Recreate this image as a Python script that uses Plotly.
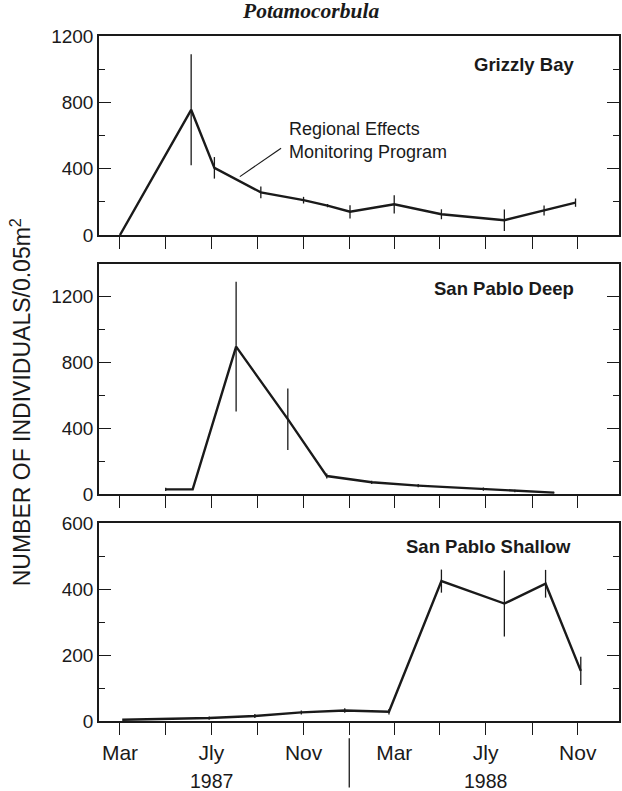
import plotly.graph_objects as go

# ---- data ----
grizzly_dates = ["1987-03-01", "1987-06-04", "1987-07-05", "1987-09-05", "1987-11-01", "1987-12-03",
                 "1988-01-02", "1988-03-01", "1988-05-03", "1988-07-26", "1988-09-17", "1988-10-29"]
grizzly_vals = [0, 755, 405, 257, 210, 177, 140, 185, 125, 89, 148, 195]
grizzly_err = [0, 335, 65, 35, 20, 10, 40, 55, 30, 65, 30, 25]

deep_dates = ["1987-05-01", "1987-06-06", "1987-08-03", "1987-10-11", "1987-12-02", "1988-01-31",
              "1988-04-02", "1988-06-28", "1988-08-09", "1988-09-30"]
deep_vals = [28, 28, 896, 455, 109, 71, 51, 30, 18, 8]
deep_err = [10, 0, 395, 187, 15, 10, 10, 10, 8, 5]

shallow_dates = ["1987-03-04", "1987-04-30", "1987-06-28", "1987-08-28", "1987-10-29", "1987-12-26",
                 "1988-02-23", "1988-05-03", "1988-07-26", "1988-09-19", "1988-11-05"]
shallow_vals = [4, 6, 9, 15, 26, 32, 28, 424, 356, 416, 152]
shallow_err = [0, 0, 5, 6, 6, 7, 8, 35, 100, 42, 43]

panel_names = ["Grizzly Bay", "San Pablo Deep", "San Pablo Shallow"]
label_dates = ["1987-03-01", "1987-07-01", "1987-11-01", "1988-03-01", "1988-07-01", "1988-11-01"]
label_text = ["Mar", "Jly", "Nov", "Mar", "Jly", "Nov"]
minor_tick0 = "1987-03-01"
minor_step = "M2"
year_labels = ["1987", "1988"]
year_centers = ["1987-07-01", "1988-07-01"]
year_divider = "1988-01-01"
x_range = ["1987-02-01", "1988-12-26"]
y_ranges = [[0, 1200], [0, 1400], [0, 600]]
y_dticks = [400, 400, 200]
y_minor = [200, 200, 100]
title_text = "Potamocorbula"
ytitle_text = "NUMBER OF INDIVIDUALS/0.05m<sup>2</sup>"
remp_text = "Regional Effects<br>Monitoring Program"
remp_pos = ("1987-10-10", 567)
remp_leader = (("1987-08-08", 352), ("1987-10-02", 523))

INK = "#1a1a1a"
FONT = "Liberation Sans"

series = [(grizzly_dates, grizzly_vals, grizzly_err),
          (deep_dates, deep_vals, deep_err),
          (shallow_dates, shallow_vals, shallow_err)]

# vertical domains (top, middle, bottom)
domains = [[0.7095, 1.0], [0.3314, 0.6675], [0.0, 0.289]]

fig = go.Figure()
for i, (d, v, e) in enumerate(series):
    sfx = "" if i == 0 else str(i + 1)
    fig.add_trace(go.Scatter(
        x=d, y=v, mode="lines",
        line=dict(color=INK, width=2.4),
        error_y=dict(type="data", array=e, visible=True, width=0, thickness=1.3, color=INK),
        xaxis="x" + sfx, yaxis="y" + sfx, showlegend=False, cliponaxis=False,
    ))

layout = dict(
    width=622, height=791,
    margin=dict(l=99, r=1, t=36, b=70),
    paper_bgcolor="white", plot_bgcolor="white",
    font=dict(family=FONT, color=INK),
    showlegend=False,
)

for i in range(3):
    sfx = "" if i == 0 else str(i + 1)
    layout["xaxis" + sfx] = dict(
        type="date", range=x_range, domain=[0, 1],
        anchor="y" + sfx,
        matches=None if i == 0 else "x",
        tickmode="array", tickvals=label_dates, ticktext=label_text,
        showticklabels=(i == 2),
        ticks="outside", ticklen=12, tickwidth=1.3, tickcolor=INK,
        minor=dict(ticks="outside", ticklen=12, tickwidth=1.3, tickcolor=INK,
                   tick0=minor_tick0, dtick=minor_step, showgrid=False),
        showline=True, linecolor=INK, linewidth=1.5, mirror=True,
        showgrid=False, zeroline=False,
        tickfont=dict(size=21, family=FONT, color=INK),
    )
    layout["yaxis" + sfx] = dict(
        range=y_ranges[i], domain=domains[i], anchor="x" + sfx,
        tick0=0, dtick=y_dticks[i],
        ticks="inside", ticklen=12, tickwidth=1.3, tickcolor=INK,
        minor=dict(ticks="inside", ticklen=6, tickwidth=1.2, tickcolor=INK, dtick=y_minor[i], showgrid=False),
        showline=True, linecolor=INK, linewidth=1.5, mirror="ticks",
        showgrid=False, zeroline=False,
        tickfont=dict(size=19, family=FONT, color=INK),
    )

fig.update_layout(**layout)

annotations = []
# panel labels
label_pos = [(0.918, 0.9577), (0.917, 0.632), (0.912, 0.2545)]
for name, (px, py) in zip(panel_names, label_pos):
    annotations.append(dict(text="<b>" + name + "</b>", x=px, y=py, xref="paper", yref="paper",
                            xanchor="right", yanchor="middle", showarrow=False,
                            font=dict(size=18.5, family=FONT, color=INK)))
# title
annotations.append(dict(text="<b><i>" + title_text + "</i></b>", x=0.406, y=1.037, xref="paper", yref="paper",
                        xanchor="center", yanchor="middle", showarrow=False,
                        font=dict(size=21.5, family="Liberation Serif", color=INK)))
# y title
annotations.append(dict(text=ytitle_text, x=-0.151, y=0.466, xref="paper", yref="paper",
                        textangle=-90, xanchor="center", yanchor="middle", showarrow=False,
                        font=dict(size=23, family=FONT, color=INK)))
# REMP note
annotations.append(dict(text=remp_text, x=remp_pos[0], y=remp_pos[1], xref="x", yref="y",
                        xanchor="left", yanchor="middle", align="left", showarrow=False,
                        font=dict(size=18, family=FONT, color=INK)))
# year labels
for lab, xc in zip(year_labels, year_centers):
    annotations.append(dict(text=lab, x=xc, y=-0.087, xref="x3", yref="paper",
                            xanchor="center", yanchor="middle", showarrow=False,
                            font=dict(size=19.5, family=FONT, color=INK)))
fig.update_layout(annotations=annotations)

fig.add_shape(type="line", xref="x", yref="y",
              x0=remp_leader[0][0], y0=remp_leader[0][1], x1=remp_leader[1][0], y1=remp_leader[1][1],
              line=dict(color=INK, width=1.2))
fig.add_shape(type="line", xref="x3", yref="paper",
              x0=year_divider, x1=year_divider, y0=-0.025, y1=-0.097,
              line=dict(color=INK, width=1.3))

# remove the default 8px page margin so the figure sits at the window's top-left corner
fig.write_html("out.html", config={"displayModeBar": False},
               post_script="document.body.style.margin='0';")
